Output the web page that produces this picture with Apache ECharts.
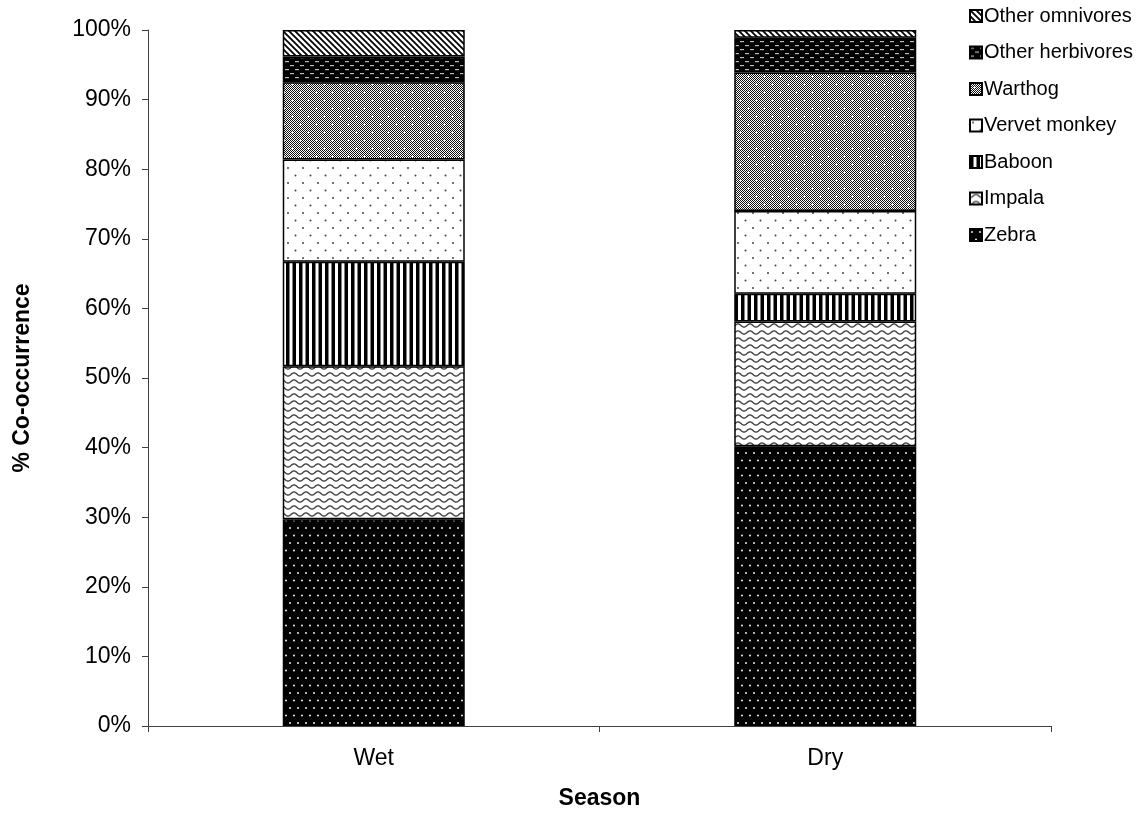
<!DOCTYPE html>
<html>
<head>
<meta charset="utf-8">
<script src="https://cdn.jsdelivr.net/npm/echarts@6/dist/echarts.min.js"></script>
<style>
  html, body { margin: 0; padding: 0; background: #fff; }
  #chart { width: 1140px; height: 818px; }
</style>
</head>
<body>
<div id="chart"></div>
<script>
// Seasons on the x axis
const seasons = ['Wet', 'Dry'];

// Share of co-occurrence (%) per species, per season (Wet, Dry)
const zebra           = [29.7, 40.2];
const impala          = [22.0, 17.9];
const baboon          = [15.0, 4.0];
const vervetMonkey    = [14.7, 11.9];
const warthog         = [11.1, 19.9];
const otherHerbivores = [3.7, 5.0];
const otherOmnivores  = [3.8, 1.1];

const yTicks = [0, 10, 20, 30, 40, 50, 60, 70, 80, 90, 100];

// ---- monochrome fill patterns -------------------------------------------
function tile(w, h, draw) {
  const c = document.createElement('canvas');
  c.width = w; c.height = h;
  const g = c.getContext('2d');
  draw(g, w, h);
  return { image: c, repeat: 'repeat' };
}
function dot(g, x, y, r, col) {
  g.fillStyle = col;
  g.beginPath(); g.arc(x, y, r, 0, Math.PI * 2); g.fill();
}

const patterns = {
  // black ground, small white dots
  zebra: tile(8, 15, (g, w, h) => {
    g.fillStyle = '#000'; g.fillRect(0, 0, w, h);
    dot(g, 2, 3, 1.1, '#ddd');
    dot(g, 6, 10.5, 1.1, '#ddd');
  }),
  // grey wavy lines on white
  impala: tile(12, 7, (g, w, h) => {
    g.fillStyle = '#fff'; g.fillRect(0, 0, w, h);
    g.strokeStyle = '#4a4a4a'; g.lineWidth = 1.5;
    g.beginPath();
    for (let x = -1; x <= w + 1; x += 0.5) {
      const y = 3.5 + 1.6 * Math.cos(2 * Math.PI * x / w);
      if (x === -1) g.moveTo(x, y); else g.lineTo(x, y);
    }
    g.stroke();
  }),
  // vertical black stripes
  baboon: tile(13, 4, (g, w, h) => {
    g.fillStyle = '#fff'; g.fillRect(0, 0, w, h);
    g.fillStyle = '#000';
    g.fillRect(0, 0, 3.5, h);
    g.fillRect(6.5, 0, 3.5, h);
  }),
  // sparse dark dots on white
  vervet: tile(15, 15, (g, w, h) => {
    g.fillStyle = '#fff'; g.fillRect(0, 0, w, h);
    dot(g, 3, 3, 1.0, '#444');
    dot(g, 10.5, 10.5, 1.0, '#444');
  }),
  // fine grey checker with white crosses
  warthog: tile(16, 16, (g, w, h) => {
    g.fillStyle = '#fff'; g.fillRect(0, 0, w, h);
    g.fillStyle = '#111';
    for (let y = 0; y < h; y++) for (let x = (y % 2); x < w; x += 2) g.fillRect(x, y, 1, 1);
    g.fillStyle = '#fff';
    [[4, 4], [12, 12]].forEach(([cx, cy]) => {
      g.fillRect(cx - 1, cy, 3, 1);
      g.fillRect(cx, cy - 1, 1, 3);
    });
  }),
  // black ground with light dashes in a brick layout
  otherHerb: tile(10, 8, (g, w, h) => {
    g.fillStyle = '#000'; g.fillRect(0, 0, w, h);
    g.fillStyle = '#bbb';
    g.fillRect(0, 1, 4, 1.2);
    g.fillRect(5, 5, 4, 1.2);
  }),
  // diagonal black stripes on white
  otherOmni: tile(6, 6, (g, w, h) => {
    g.fillStyle = '#fff'; g.fillRect(0, 0, w, h);
    g.strokeStyle = '#000'; g.lineWidth = 1.8;
    g.beginPath();
    g.moveTo(-1, -1); g.lineTo(w + 1, h + 1);
    g.moveTo(-1 - w, -1); g.lineTo(1, h + 1);
    g.moveTo(w - 1, -1); g.lineTo(2 * w + 1, h + 1);
    g.stroke();
  })
};

const seriesDefs = [
  ['Zebra', zebra, patterns.zebra],
  ['Impala', impala, patterns.impala],
  ['Baboon', baboon, patterns.baboon],
  ['Vervet monkey', vervetMonkey, patterns.vervet],
  ['Warthog', warthog, patterns.warthog],
  ['Other herbivores', otherHerbivores, patterns.otherHerb],
  ['Other omnivores', otherOmnivores, patterns.otherOmni]
];

const FONT = 'Liberation Sans, Arial, sans-serif';
const AXIS_COLOR = '#404040';
const AXIS_FONT = 23;

const chart = echarts.init(document.getElementById('chart'), null, { renderer: 'canvas' });

chart.setOption({
  animation: false,
  backgroundColor: '#fff',
  textStyle: { fontFamily: FONT, color: '#000' },
  grid: { left: 148, right: 89, top: 30, bottom: 92, containLabel: false },
  legend: {
    orient: 'vertical',
    left: 964,
    top: 1,
    itemGap: 16.5,
    itemWidth: 12,
    itemHeight: 12,
    icon: 'rect',
    selectedMode: false,
    textStyle: { fontSize: 20, color: '#000', fontFamily: FONT, padding: [0, 0, 0, -3] },
    data: seriesDefs.map(d => d[0]).reverse()
  },
  xAxis: {
    type: 'category',
    data: seasons,
    name: 'Season',
    nameLocation: 'middle',
    nameGap: 61,
    nameTextStyle: { fontSize: AXIS_FONT, fontWeight: 'bold', color: '#000' },
    axisLine: { lineStyle: { color: AXIS_COLOR, width: 1 } },
    axisTick: { show: true, length: 6, alignWithLabel: false, lineStyle: { color: AXIS_COLOR } },
    axisLabel: { fontSize: AXIS_FONT, color: '#000', margin: 21 },
    splitLine: { show: false }
  },
  yAxis: {
    type: 'value',
    min: yTicks[0],
    max: yTicks[yTicks.length - 1],
    interval: 10,
    name: '% Co-occurrence',
    nameLocation: 'middle',
    nameGap: 114,
    nameRotate: 90,
    nameTextStyle: { fontSize: AXIS_FONT, fontWeight: 'bold', color: '#000' },
    axisLine: { show: true, lineStyle: { color: AXIS_COLOR, width: 1 } },
    axisTick: { show: true, length: 6, inside: false, lineStyle: { color: AXIS_COLOR } },
    axisLabel: { fontSize: AXIS_FONT, color: '#000', margin: 17, formatter: '{value}%' },
    splitLine: { show: false }
  },
  series: seriesDefs.map(([name, values, fill]) => ({
    name: name,
    type: 'bar',
    stack: 'total',
    barWidth: 182,
    data: values,
    itemStyle: { color: fill, borderColor: '#000', borderWidth: 1.5 },
    emphasis: { disabled: true }
  }))
});
</script>
</body>
</html>
